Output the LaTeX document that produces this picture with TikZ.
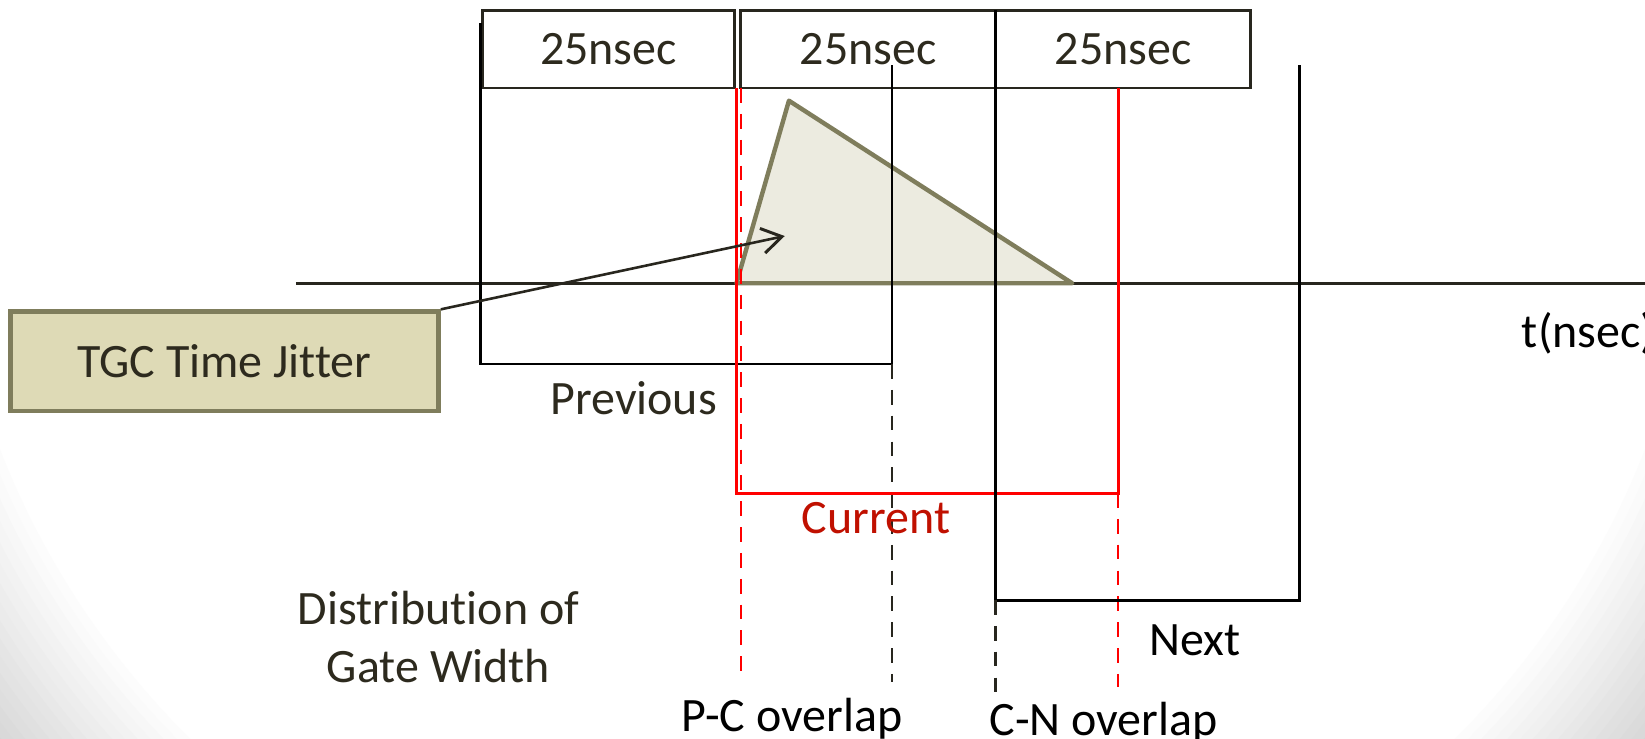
\documentclass[tikz,border=0pt]{standalone}
\usepackage{fontspec}
\setmainfont[Ligatures=NoCommon]{Carlito}
\usetikzlibrary{arrows.meta}
\definecolor{txt}{RGB}{45,42,30}
\definecolor{olive}{RGB}{127,125,92}
\definecolor{beige}{RGB}{222,218,182}
\definecolor{trifill}{RGB}{236,235,224}
\definecolor{redtxt}{RGB}{192,16,0}
\definecolor{axis}{RGB}{40,38,30}
\tikzset{
  lbl/.style={font=\fontsize{13}{15.6}\selectfont, text=txt, inner sep=0pt},
  blbl/.style={font=\fontsize{13}{15.6}\selectfont, text=black, inner sep=0pt},
  slot/.style={draw=axis, line width=0.7pt, minimum width=2.4cm, minimum height=0.74cm, inner sep=0pt, font=\fontsize{13}{15.6}\selectfont, text=txt},
  gate/.style={draw=black, line width=0.6pt},
  redgate/.style={draw=red, line width=0.85pt},
  reddash/.style={draw=red, line width=0.6pt, dashed, dash pattern=on 4pt off 3pt},
  blkdash/.style={draw=axis, line width=0.6pt, dash pattern=on 4pt off 3pt},
}
\begin{document}
\begin{tikzpicture}[x=0.01cm,y=-0.01cm]
\useasboundingbox (0,0) rectangle (1568,704);
% background vignette
\begin{scope}
\clip (0,0) rectangle (1568,704);
\fill[white] (0,0) rectangle (1568,704);
\foreach \i in {1,...,16} {
  \pgfmathsetmacro\rx{836*(1+0.011*(\i-1))}
  \pgfmathsetmacro\ry{800*(1+0.011*(\i-1))}
  \fill[black!\i, even odd rule] (-10,-10) rectangle (1578,714) (784,150) ellipse [x radius=\rx, y radius=\ry];
}
\end{scope}

% time slots
\node[slot] (s1) at (580,47) {25nsec};
\node[slot, minimum width=2.43cm] (s2) at (827.5,47) {25nsec};
\node[slot, minimum width=2.43cm] (s3) at (1070.5,47) {25nsec};

% axis
\coordinate (ax1) at (282,270);
\coordinate (ax2) at (1568,270);
\draw[axis, line width=0.7pt] (ax1) -- (ax2);
\node[blbl, anchor=west] (tn) at (1450,318) {t(nsec)};

% triangle (jitter distribution)
\coordinate (ta) at (702,270);
\coordinate (tb) at (752,96);
\coordinate (tc) at (1022,270);
\filldraw[fill=trifill, draw=olive, line width=1.2pt, line join=round] (ta) -- (tb) -- (tc) -- cycle;

% Previous gate
\coordinate (p1) at (458,22);
\coordinate (p2) at (458,347);
\coordinate (p3) at (850,347);
\coordinate (p4) at (850,62);
\coordinate (p5) at (850,650);
\draw[gate] (p1) -- (p2) -- (p3) -- (p4);
\draw[blkdash] (p3) -- (p5);
\node[lbl] (prev) at (604,380) {Previous};

% Current gate
\coordinate (c1) at (702,84);
\coordinate (c2) at (702,470);
\coordinate (c3) at (1066,470);
\coordinate (c4) at (1066,84);
\coordinate (c5) at (706,84);
\coordinate (c6) at (706,650);
\coordinate (c7) at (1066,655);
\draw[redgate] (c1) -- (c2) -- (c3) -- (c4);
\draw[reddash] (c5) -- (c6);
\draw[reddash] (c3) -- (c7);
\node[lbl, text=redtxt] (cur) at (835,494) {Current};

% Next gate
\coordinate (n1) at (949,10);
\coordinate (n2) at (949,572);
\coordinate (n3) at (1239,572);
\coordinate (n4) at (1239,62);
\coordinate (n5) at (949,665);
\draw[gate, line width=0.8pt] (n1) -- (n2) -- (n3) -- (n4);
\draw[blkdash] (n2) -- (n5);
\node[blbl] (next) at (1139,610) {Next};

% overlap labels
\node[blbl] (pc) at (755,685) {P-C overlap};
\node[blbl] (cn) at (1052,689) {C-N overlap};

% distribution label
\node[lbl, align=center] (dist) at (418,607) {Distribution of\\Gate Width};

% TGC jitter box and arrow
\node[draw=olive, fill=beige, line width=1.2pt, minimum width=4.08cm, minimum height=0.95cm, inner sep=0pt, font=\fontsize{13}{15.6}\selectfont, text=txt] (tgc) at (214,344.5) {TGC Time Jitter};
\coordinate (tip) at (748,225);
\draw[axis, line width=0.7pt, -{Straight Barb[length=1.9mm,width=2.4mm,line width=0.8pt]}] (tgc.north east) -- (tip);
\end{tikzpicture}
\end{document}
